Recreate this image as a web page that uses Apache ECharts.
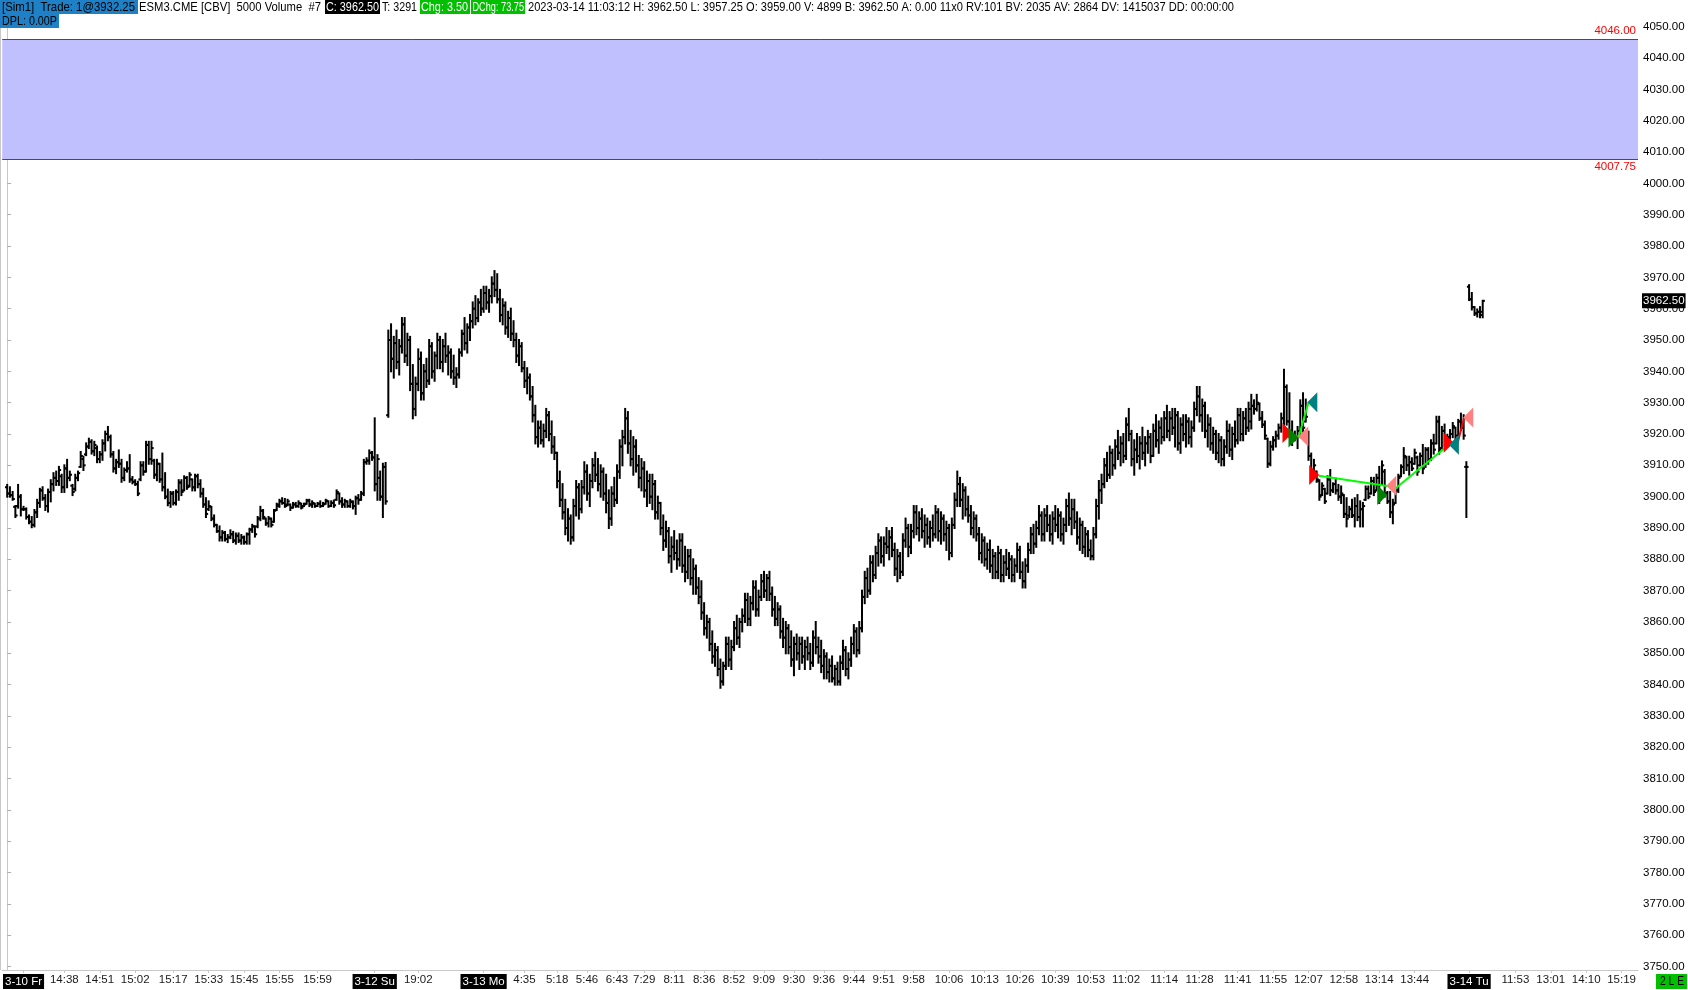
<!DOCTYPE html>
<html><head><meta charset="utf-8">
<script src="https://cdn.jsdelivr.net/npm/echarts@6/dist/echarts.min.js"></script>
<style>html,body{margin:0;padding:0;background:#fff;overflow:hidden}#c{width:1688px;height:990px}</style>
</head><body><div id="c"></div>
<script>
// ---- DATA: OHLC bars [open, high, low, close] by session ----
const friBars = [
[3903,3903.75,3900,3901],[3901,3903,3900,3900.5],[3900.5,3901.5,3899,3899.25],[3896.75,3897,3893.5,3894],[3897,3903.75,3896.5,3900],
[3900,3900.5,3894,3896],[3896,3896.75,3895.75,3896],[3896,3896.25,3893,3893.5],[3893.5,3894,3891.5,3892],[3892,3893.5,3890.25,3891],
[3891,3895.75,3890.5,3895],[3895,3899,3893.5,3898],[3898,3902.5,3896.75,3902],[3902,3903,3899,3899.5],[3899.5,3900.5,3895.75,3897],
[3897,3902.25,3895.25,3901.5],[3901.5,3905.25,3898.5,3904],[3904,3907.5,3902,3906],[3906,3908,3903.75,3905],[3905,3909.5,3903.75,3908.5],
[3906.5,3907,3901.5,3903],[3903,3910,3901.5,3909],[3909,3911.75,3903,3906],[3906,3908,3905.25,3907],[3903.5,3903.75,3900.5,3901.5],
[3902.5,3907,3902,3906],[3906,3908,3905.25,3907.5],[3909.5,3914.25,3909.5,3913],[3912,3912.75,3908.5,3910],[3913.5,3917,3913.25,3916],
[3916,3918.5,3915.5,3917.5],[3917.5,3918,3913.75,3914.5],[3914.5,3917.5,3913.25,3916.5],[3915.5,3916,3911,3912],[3912,3914.25,3911,3913.5],
[3913.5,3918,3911.75,3917],[3917,3920.75,3914.75,3920],[3920,3922.25,3918,3919],[3919,3919.5,3912.75,3913.5],[3913.5,3914.25,3908,3909],
[3909,3911.75,3907.5,3911],[3911,3914.75,3909.5,3910.5],[3910.5,3911.75,3904.75,3906],[3906,3909,3905.25,3908.5],[3908.5,3911,3908,3909],
[3909,3913.25,3904.75,3905.5],[3905.5,3906.25,3904.25,3904.75],[3904.75,3905.25,3903.75,3904],[3904,3904.75,3900.5,3901],[3905.5,3911,3905.25,3910],
[3910,3911,3907,3908],[3908,3917.5,3908,3916.5],[3916.5,3917.5,3910.5,3912],[3912,3917.5,3910.5,3915.5],[3911.5,3911.75,3906,3907],
[3907,3911.75,3905.25,3910.5],[3910.5,3910.5,3904.75,3905.5],[3905.5,3913.75,3902,3903],[3903,3907.5,3899.5,3900],[3900,3902.25,3897.25,3898],
[3898,3901.5,3896.75,3901],[3901,3901.5,3897.5,3898],[3898,3902,3897.5,3901.5],[3901.5,3905.25,3899,3904.5],[3904.5,3905.25,3900.5,3901.5],
[3902,3906.5,3902,3906],[3906,3906.25,3902.5,3903],[3903.5,3907.5,3903.25,3907],[3905.5,3905.5,3902,3903],[3903,3907,3902,3906.5],
[3906.5,3907,3903,3904],[3904,3905.25,3900,3901],[3901,3902.5,3896.75,3897.5],[3897.5,3899.5,3893.5,3894.5],[3896,3898.5,3895.75,3897],
[3896.75,3896.75,3892.5,3893],[3893,3894,3890.5,3891],[3891,3891,3888.75,3889],[3889,3890.5,3886,3887],[3887,3889,3886,3888.5],
[3888.5,3888.75,3886,3886.5],[3886.5,3887.75,3885.5,3887],[3887,3889.25,3886.75,3888],[3888,3888.75,3885.5,3886],[3886,3888.25,3885,3887.5],
[3887.5,3888.25,3885.5,3886],[3886,3887.75,3885,3887],[3887,3887.25,3885,3885.5],[3885.5,3888.25,3885,3888],[3888,3889.75,3885,3889.5],
[3889.5,3891,3888.75,3890.5],[3890.5,3890.5,3887.25,3888],[3890.5,3893.5,3890.25,3893],[3893,3896.75,3892.5,3895.5],[3895.5,3895.75,3893,3893.5],
[3893,3893,3891,3891.5],[3891.5,3893.5,3890.5,3893],[3893,3893,3890.5,3891],[3892,3895.75,3892,3895.5],[3895.75,3897.75,3895.75,3897.5],
[3897,3899,3896.75,3898.5],[3898.5,3899.5,3897.75,3898],[3898,3899.25,3896.75,3897],[3897.5,3899,3897.25,3898.5],[3897.5,3897.5,3895.75,3896.5],
[3896.5,3898,3896.5,3897.5],[3897.5,3898,3896.75,3897],[3897,3898.5,3896.75,3898],[3897.75,3897.75,3896.25,3896.5],[3897,3897.75,3897,3897.5],
[3897.75,3899,3897.75,3898.75],[3898.75,3899,3897,3897.5],[3897.5,3898.5,3896.75,3898],[3897.75,3897.75,3896.75,3897],[3897,3898,3897,3897.75],
[3897.75,3898.5,3896.75,3897],[3897,3898,3897,3897.5],[3897.75,3899,3897.75,3898.75],[3898.5,3898.5,3896.75,3897],[3897,3898.5,3897,3898],
[3898,3898.75,3896.75,3897.25],[3899,3902,3899,3901.5],[3901,3901,3897.75,3898.5],[3898.5,3899.5,3896.75,3897.5],[3897.5,3899,3896.75,3898.5],
[3898.5,3898.5,3896.75,3897],[3897,3899,3896.75,3898.5]
];
const sunBars = [
[3898.25,3898.5,3896.25,3897],[3897,3900,3894.5,3899.5],[3899.5,3900.5,3897.75,3899],[3899,3901.5,3899,3901],[3901,3911.75,3900.5,3911],
[3911,3912.25,3910.5,3911.5],[3911.5,3914.75,3910.5,3914],[3914,3914.25,3911.75,3912.5],[3912.5,3925,3902,3904],[3904,3913.25,3899,3912],
[3906,3908,3899,3900],[3900,3910.5,3893.5,3909.5],[3909.5,3910.75,3897.75,3898.5],[3926,3953,3925.5,3950],
[3950,3955,3940,3944],[3944,3951,3938,3949],[3949,3953,3941,3943],[3943,3950,3939,3948],[3948,3957,3946,3955],
[3955,3957,3943,3945],[3945,3952,3942,3950],[3950,3951,3934,3936],[3936,3942,3925,3928],[3928,3938,3926,3936],
[3936,3947,3934,3944],[3944,3946,3931,3933],[3933,3942,3931,3940],[3940,3944,3935,3937],[3937,3950,3936,3948],
[3948,3949,3938,3940],[3940,3946,3937,3945],[3945,3952,3941,3950],[3950,3951,3941,3943],[3943,3950,3940,3948],
[3948,3952,3943,3945],[3945,3948,3939,3946],[3946,3947,3938,3940],[3940,3945,3936,3938],[3938,3941,3935,3939],
[3939,3947,3938,3946],[3946,3953,3945,3952],[3952,3957,3947,3949],[3949,3955,3946,3954],[3954,3958,3950,3956],
[3956,3962,3954,3960],[3960,3964,3955,3957],[3957,3963,3956,3962],[3962,3966,3958,3960]
];
const monBars = [
[3960,3967,3959,3965],[3965,3967,3960,3962],[3962,3966,3959,3964],[3964,3970,3962,3968],[3968,3972,3964,3966],
[3966,3971,3962,3963],[3963,3966,3956,3958],[3958,3963,3955,3961],[3961,3962,3952,3954],[3954,3959,3951,3957],
[3957,3960,3950,3952],[3952,3956,3948,3950],[3950,3952,3943,3945],[3945,3950,3942,3948],[3948,3949,3940,3941],
[3941,3943,3935,3937],[3937,3941,3933,3938],[3938,3939,3931,3932],[3932,3935,3924,3926],[3926,3929,3917,3919],
[3919,3924,3916,3922],[3922,3924,3917,3918],[3918,3923,3916,3921],[3921,3928,3919,3926],[3926,3927,3918,3920],
[3920,3924,3914,3916],[3916,3919,3912,3914],[3914,3914,3903,3905],[3905,3908,3897,3899],[3899,3904,3893,3895],
[3895,3899,3888,3890],[3890,3896,3886,3893],[3893,3894,3885,3887],[3887,3899,3886,3897],[3897,3905,3894,3903],
[3903,3904,3893,3896],[3896,3905,3895,3903],[3903,3911,3901,3908],[3908,3910,3899,3901],[3901,3907,3897,3905],
[3905,3912,3903,3910],[3910,3914,3905,3907],[3907,3912,3902,3904],[3904,3910,3900,3908],[3908,3909,3899,3901],
[3901,3907,3895,3898],[3898,3902,3890,3893],[3893,3903,3891,3901],[3901,3906,3897,3899],[3899,3910,3898,3908],
[3908,3918,3906,3916],[3916,3921,3910,3919],[3919,3928,3917,3925],[3925,3927,3914,3917],[3917,3921,3910,3912],
[3912,3919,3907,3916],[3916,3918,3908,3910],[3910,3913,3903,3906],[3906,3912,3902,3909],[3909,3911,3900,3902],
[3902,3908,3897,3905],[3905,3907,3898,3900],[3900,3907,3896,3904],[3904,3905,3893,3895],[3895,3900,3893,3898],
[3898,3898,3888,3890],[3890,3894,3883,3886],[3886,3892,3884,3889],[3889,3890,3879,3881],[3881,3887,3876,3884],
[3884,3889,3880,3882],[3882,3886,3877,3880],[3880,3888,3878,3886],[3886,3888,3876,3878],[3878,3884,3873,3876],
[3876,3883,3874,3881],[3881,3883,3872,3874],[3874,3880,3869,3877],[3877,3878,3869,3871],[3871,3874,3866,3868],
[3868,3873,3861,3863],[3863,3866,3856,3858],[3858,3862,3855,3860],[3860,3861,3851,3853],[3853,3857,3847,3849],
[3849,3853,3846,3851],[3851,3852,3843,3845],[3845,3848,3839,3841],[3841,3847,3840,3846],[3846,3855,3845,3853],
[3853,3855,3846,3848],[3848,3854,3845,3852],[3852,3860,3851,3858],[3858,3862,3853,3855],[3855,3861,3852,3860],
[3860,3864,3857,3862],[3862,3869,3860,3867],[3867,3869,3859,3861],[3861,3868,3859,3866],[3866,3873,3864,3871],
[3871,3873,3862,3864],[3864,3870,3862,3868],[3868,3875,3867,3873],[3873,3876,3868,3870],[3870,3875,3867,3874],
[3874,3876,3867,3869],[3869,3871,3862,3864],[3864,3868,3859,3861],[3861,3866,3859,3864],[3864,3865,3855,3857],
[3857,3861,3852,3855],[3855,3860,3850,3858],[3858,3859,3850,3852],[3852,3857,3846,3848],[3848,3855,3843,3853],
[3853,3856,3848,3850],[3850,3855,3845,3853],[3853,3855,3847,3849],[3849,3854,3845,3852],[3852,3855,3848,3850],
[3850,3853,3845,3847],[3847,3857,3846,3855],[3855,3860,3850,3852],[3852,3855,3847,3849],[3849,3854,3844,3846],
[3846,3851,3842,3849],[3849,3850,3842,3844],[3844,3848,3841,3846],[3846,3849,3841,3842],[3842,3846,3840,3845],
[3845,3847,3840,3841],[3841,3849,3840,3847],[3847,3854,3845,3851],[3851,3852,3843,3845],[3845,3850,3842,3848],
[3848,3855,3846,3853],[3853,3859,3850,3857],[3857,3858,3849,3851],[3851,3860,3850,3858],[3858,3870,3857,3868],
[3868,3876,3866,3874],[3874,3877,3868,3870],[3870,3881,3869,3879],[3879,3881,3873,3875],[3875,3884,3874,3882],
[3882,3888,3878,3886],[3886,3887,3879,3881],[3881,3887,3878,3885],[3885,3890,3882,3884],[3884,3889,3880,3887],
[3887,3890,3881,3883],[3883,3885,3875,3877],[3877,3883,3873,3881],[3881,3882,3874,3876],[3876,3888,3875,3886],
[3886,3893,3884,3890],[3890,3891,3881,3884],[3884,3891,3882,3889],[3889,3897,3887,3895],[3895,3897,3888,3890],
[3890,3895,3886,3893],[3893,3896,3887,3889],[3889,3894,3884,3891],[3891,3893,3885,3887],[3887,3892,3884,3890],
[3890,3894,3886,3888],[3888,3897,3887,3895],[3895,3896,3886,3889],[3889,3895,3885,3893],[3893,3894,3886,3888],
[3888,3892,3883,3890],[3890,3891,3880,3882],[3882,3893,3881,3891],[3891,3901,3890,3899],[3899,3908,3897,3904],
[3904,3906,3897,3899],[3899,3904,3893,3902],[3902,3903,3894,3896],[3896,3900,3892,3894],[3894,3897,3888,3890],
[3890,3895,3887,3893],[3893,3894,3886,3888],[3888,3890,3880,3882],[3882,3888,3879,3886],[3886,3887,3878,3880],
[3880,3885,3877,3883],[3883,3886,3876,3878],[3878,3883,3874,3881],[3881,3882,3874,3876],[3876,3884,3874,3882],
[3882,3883,3873,3875],[3875,3881,3873,3879],[3879,3883,3875,3877],[3877,3882,3874,3880],[3880,3881,3873,3875],
[3875,3880,3873,3878],[3878,3885,3876,3883],[3883,3884,3874,3876],[3876,3879,3871,3873],[3873,3880,3871,3878],
[3878,3885,3876,3883],[3883,3890,3882,3888],[3888,3891,3882,3885],[3885,3892,3884,3890],[3890,3897,3888,3894],
[3894,3895,3886,3888],[3888,3896,3886,3894],[3894,3897,3889,3891],[3891,3894,3886,3888],[3888,3895,3885,3893],
[3893,3897,3889,3891],[3891,3896,3887,3894],[3894,3895,3886,3888],[3888,3893,3885,3891],[3891,3899,3889,3897],
[3897,3901,3891,3893],[3893,3899,3888,3896],[3896,3899,3890,3892],[3892,3895,3885,3887],[3887,3893,3883,3891],
[3891,3892,3882,3884],[3884,3890,3881,3888],[3888,3889,3881,3883],[3883,3886,3880,3881],[3881,3890,3880,3888],
[3888,3899,3887,3897],[3897,3905,3893,3902],[3902,3907,3898,3904],[3904,3912,3903,3910],[3910,3914,3905,3907],
[3907,3916,3906,3914],[3914,3915,3907,3910],[3910,3918,3909,3916],[3916,3921,3912,3914],[3914,3919,3910,3917],
[3917,3920,3911,3913],[3913,3925,3912,3923],[3923,3928,3918,3920],[3920,3921,3910,3912],[3912,3918,3907,3915],
[3915,3920,3911,3913],[3913,3919,3909,3917],[3917,3922,3912,3914],[3914,3919,3910,3917],[3917,3921,3914,3919],
[3919,3920,3911,3913],[3913,3923,3913,3921],[3921,3926,3916,3918],[3918,3924,3914,3922],[3922,3925,3917,3919],
[3919,3927,3918,3925],[3925,3929,3919,3921],[3921,3927,3918,3925],[3925,3928,3920,3922],[3922,3928,3916,3926],
[3926,3927,3915,3917],[3917,3925,3914,3923],[3923,3926,3918,3920],[3920,3926,3916,3924],[3924,3925,3917,3919],
[3919,3924,3916,3922],[3922,3930,3921,3928],[3928,3935,3926,3932],[3932,3935,3924,3926],[3926,3931,3921,3929],
[3929,3930,3919,3921],[3921,3926,3916,3923],[3923,3925,3915,3917],[3917,3922,3914,3920],[3920,3921,3912,3914],
[3914,3920,3911,3918],[3918,3919,3910,3912],[3912,3918,3910,3916],[3916,3924,3914,3921],[3921,3923,3913,3915],
[3915,3922,3912,3920],[3920,3924,3916,3918],[3918,3928,3917,3926],[3926,3928,3918,3920],[3920,3927,3918,3925],
[3925,3928,3920,3922],[3922,3930,3921,3928],
[3924,3932.5,3921.75,3929],[3929,3930.75,3926.5,3928],[3928,3932.5,3927.5,3930],[3929.5,3929.75,3924.5,3925],[3925,3927,3922.25,3923],
[3923,3924,3918.5,3919.5],[3918.5,3918.5,3909.5,3910.5],[3910.5,3917.5,3910,3916],[3916,3919,3915,3918],[3918,3920.75,3916,3919.5],
[3919.5,3923,3918.5,3922],[3922,3926.5,3920.75,3925],[3925,3940.5,3922.25,3935],[3935,3935.5,3923,3924],[3924,3933,3919,3921],
[3921,3924,3916.5,3918],[3918,3920.75,3918,3919],[3919,3922.25,3915.5,3921],[3921,3930.75,3919,3929],[3929,3933,3920.75,3922],
[3924,3931,3924,3925.5],[3920.5,3920.75,3911.75,3913],[3913,3913.75,3907,3908],[3908,3911.75,3907,3910],[3908,3908,3904.75,3905.5],
[3905,3905.25,3899,3900],[3900.5,3904.25,3900.5,3903.5],[3902.5,3902.5,3898,3898.5],[3901,3906.5,3901,3905.5],[3905.5,3908.5,3900.5,3902],
[3902,3904.25,3901.5,3904],[3904,3905.75,3901,3902],[3902,3903.75,3899,3900],[3900,3903.25,3898,3901],[3900.5,3900.5,3893.5,3894.5],
[3894.5,3899.5,3890.5,3893],[3894,3896.75,3893.5,3896],[3896,3899,3893.5,3894],[3894,3899.5,3890.5,3897],[3897,3900.5,3892.5,3893.5],
[3893.5,3898.5,3890.5,3896],[3896,3898,3890.5,3897],[3899,3903.25,3899,3902.5],[3902.5,3903.25,3899.5,3900],[3901,3906,3901,3905],
[3905,3906,3900.5,3901.5],[3902,3907,3902,3906],[3906,3909.5,3898,3899],[3903.75,3911.25,3903.75,3910],[3908,3908.5,3900,3901],
[3901,3901.5,3898,3898.5],[3898.5,3901.5,3893.5,3895],[3895,3899,3891.5,3897.5],[3898,3902.5,3898,3902],[3902,3907,3901.5,3906],
[3906.5,3910,3906.5,3909.5],[3909.5,3915.5,3907.5,3913],[3912.5,3912.75,3908.5,3910],[3910,3912.75,3907,3911],[3911,3912.25,3908.5,3909],
[3910.5,3915,3910.5,3914],[3912.5,3912.75,3907,3908],[3910,3913.75,3910,3913],[3913,3916.5,3907.5,3909],[3910,3915.5,3909.5,3915],
[3915,3915.5,3910.5,3912],[3912,3918,3911.75,3917],[3917,3919.75,3913.75,3915],[3917,3925.5,3917,3924],[3924,3925.5,3913.75,3915],
[3915.5,3922.25,3915.5,3921],[3921,3923,3916,3917],[3917,3919.75,3916.5,3919],[3919,3921.25,3918.5,3920],[3920,3923.5,3919,3922.5],
[3922,3922,3915.5,3917],[3919.5,3924.5,3919.5,3924],[3924,3926.5,3921.25,3922],[3922,3926,3918.5,3919.5],[3909.5,3911,3893.5,3909.5]
];
const tueBars = [
[3967,3967.5,3962.75,3963],[3963,3965,3959.75,3960.5],[3960.5,3960.5,3958,3958.5],[3958.5,3959.75,3957.5,3959],[3959,3960.5,3957.25,3958],[3959,3962.5,3957.25,3962.5]
];
// zone
const zoneLow = 4007.75, zoneHigh = 4046.00;
const lastPrice = 3962.50;
// trade markers [barIndex, price]
const entryRed = [[470.3,3920.3],[480.1,3906.9],[529.5,3917.2]];
const entryDkGreen = [[472.5,3918.9],[505.1,3900.5]];
const exitPink = [[476.1,3919.2],[508.4,3903.5],[536.7,3925.3]];
const exitTeal = [[479.4,3930.1],[531.4,3916.6]];
const tradeLine1 = [[472.0,3919.7],[474.4,3919.1],[478.1,3930.3]];
const tradeLine2 = [[481.8,3906.7],[506.9,3903.4]];
const tradeLine3 = [[509.9,3902.6],[529.5,3916.5]];
const tradeLine4 = [[532.6,3916.5],[535.2,3925.3]];
// x-axis labels (bar index, text)
const tickBars = [6,21,34,47,61,74,87,100,114,135,151,175,190,202,213,224,234,245,256,267,278,289,300,311,322,333,346,359,372,385,398,411,425,438,452,465,478,491,504,517,537,554,567,580,593];
const tickLabels = ['3-10 Fr','14:38','14:51','15:02','15:17','15:33','15:45','15:55','15:59','3-12 Su','19:02','3-13 Mo','4:35','5:18','5:46','6:43','7:29','8:11','8:36','8:52','9:09','9:30','9:36','9:44','9:51','9:58','10:06','10:13','10:26','10:39','10:53','11:02','11:14','11:28','11:41','11:55','12:07','12:58','13:14','13:44','3-14 Tu','11:53','13:01','14:10','15:19'];
// y-axis tick values
const yTicks = [3750,3760,3770,3780,3790,3800,3810,3820,3830,3840,3850,3860,3870,3880,3890,3900,3910,3920,3930,3940,3950,3960,3970,3980,3990,4000,4010,4020,4030,4040,4050];
// header texts
const hdrSim = '[Sim1]  Trade: 1@3932.25';
const hdrSym = 'ESM3.CME [CBV]  5000 Volume  #7';
const hdrClose = 'C: 3962.50';
const hdrTicks = 'T: 3291';
const hdrChg = 'Chg: 3.50';
const hdrDChg = 'DChg: 73.75';
const hdrRest = '2023-03-14 11:03:12 H: 3962.50 L: 3957.25 O: 3959.00 V: 4899 B: 3962.50 A: 0.00 11x0 RV:101 BV: 2035 AV: 2864 DV: 1415037 DD: 00:00:00';
const hdrDpl = 'DPL: 0.00P';
const posText = '2 L E';

// ---- CHART ----
const FONT = "'Liberation Sans',Arial,sans-serif";
const AX_FS = 11.5;
const bars = [].concat(friBars, sunBars, monBars, tueBars);
const ohlc = bars.map((b, i) => [i, b[0], b[1], b[2], b[3]]);
const S = 2.726, X0 = 5, PW = 1638;
const xMin = -X0 / S, xMax = xMin + PW / S;
const labelMap = {};
tickBars.forEach((b, i) => { labelMap[b] = tickLabels[i]; });

function renderBar(params, api) {
  const k = api.value(0);
  const pH = api.coord([k, api.value(2)]);
  const pL = api.coord([k, api.value(3)]);
  const yO = api.coord([k, api.value(1)])[1];
  const yC = api.coord([k, api.value(4)])[1];
  const x = pH[0];
  const st = { stroke: '#000', lineWidth: 2 };
  return { type: 'group', children: [
    { type: 'line', shape: { x1: x, y1: pH[1] - 1, x2: x, y2: pL[1] + 1 }, style: st },
    { type: 'line', shape: { x1: x - 2.2, y1: yO, x2: x, y2: yO }, style: st },
    { type: 'line', shape: { x1: x, y1: yC, x2: x + 2.2, y2: yC }, style: st }
  ]};
}

function tri(data, color, rot) {
  return { type: 'scatter', data: data, symbol: 'triangle', symbolSize: [20, 10], symbolRotate: rot,
    itemStyle: { color: color, opacity: 1 }, z: 5, silent: true, animation: false };
}
function tline(data, color) {
  return { type: 'line', data: data, showSymbol: false, symbol: 'none', z: 4, silent: true, animation: false,
    lineStyle: { color: color, width: 2 } };
}

// header text, horizontally scaled to the measured width of the reference
const HFONT = '13px ' + FONT;
const mctx = document.createElement('canvas').getContext('2d');
mctx.font = HFONT;
function htxt(x, y, t, fill, w) {
  const m = mctx.measureText(t).width || w;
  return { type: 'text', x: x, y: y, scaleX: w / m, scaleY: 1, silent: true, z: 100,
    style: { text: t, fill: fill, font: HFONT, textVerticalAlign: 'top', verticalAlign: 'top' } };
}
function hrect(x, y, w, h, fill) {
  return { type: 'rect', silent: true, z: 99, shape: { x: x, y: y, width: w, height: h }, style: { fill: fill } };
}
const BLUE = '#1e80c6', GREEN = '#00c000';
const graphic = [
  hrect(0, 0, 138, 14, BLUE), htxt(2, 1, hdrSim, '#000', 133),
  htxt(139, 1, hdrSym, '#000', 182),
  hrect(325, 0, 55, 14, '#000'), htxt(326, 1, hdrClose, '#fff', 53),
  htxt(382, 1, hdrTicks, '#000', 35),
  hrect(420, 0, 50, 14, GREEN), htxt(421, 1, hdrChg, '#fff', 47),
  hrect(471, 0, 54, 14, GREEN), htxt(472.5, 1, hdrDChg, '#fff', 51.5),
  htxt(528, 1, hdrRest, '#000', 706),
  hrect(0, 14, 59, 14, BLUE), htxt(2, 15, hdrDpl, '#000', 55),
  { type: 'line', silent: true, shape: { x1: 0.5, y1: 0, x2: 0.5, y2: 970 }, style: { stroke: '#c8c8c8', lineWidth: 1 } },
  hrect(1656, 974, 31, 15, GREEN),
  htxt(1660, 975, posText, '#000', 24)
];

const chart = echarts.init(document.getElementById('c'), null, { renderer: 'canvas' });
chart.setOption({
  animation: false,
  backgroundColor: '#fff',
  grid: { left: 0, right: 50, top: 0, bottom: 20, containLabel: false },
  xAxis: {
    type: 'value', min: xMin, max: xMax,
    splitLine: { show: false },
    axisLine: { show: true, lineStyle: { color: '#c8c8c8', width: 1 } },
    axisTick: { show: true, customValues: tickBars, length: 3, lineStyle: { color: '#c8c8c8' } },
    axisLabel: {
      show: true, customValues: tickBars, margin: 4,
      color: '#1a1a1a', fontSize: AX_FS, fontFamily: FONT,
      formatter: function (v) {
        const t = labelMap[Math.round(v)] || '';
        return t.indexOf('-') >= 0 ? '{d|' + t + '}' : t;
      },
      rich: { d: { backgroundColor: '#000', color: '#fff', fontSize: AX_FS, fontFamily: FONT, padding: [2, 2, 1, 2] } }
    }
  },
  yAxis: {
    type: 'value', position: 'right', min: 3748.92, max: 4058.52, scale: true,
    splitLine: { show: false },
    axisLine: { show: true, lineStyle: { color: '#c8c8c8', width: 1 } },
    axisTick: { show: true, customValues: yTicks, length: 4, lineStyle: { color: '#b0b0b0' } },
    axisLabel: { show: true, customValues: yTicks, margin: 5, color: '#000', fontSize: AX_FS, fontFamily: FONT,
      formatter: function (v) { return v.toFixed(2); } }
  },
  graphic: graphic,
  series: [
    {
      type: 'custom', renderItem: renderBar, data: ohlc, z: 3, silent: true, animation: false,
      encode: { x: 0, y: [2, 3] },
      markArea: { silent: true, itemStyle: { color: '#c0c0ff', opacity: 1 },
        data: [[{ yAxis: zoneLow }, { yAxis: zoneHigh }]] },
      markLine: {
        silent: true, symbol: ['none', 'none'], animation: false,
        data: [
          { yAxis: zoneHigh, lineStyle: { color: '#ff0000', width: 1, type: 'solid' },
            label: { show: true, position: 'insideEndTop', formatter: zoneHigh.toFixed(2), color: '#ff0000', fontSize: AX_FS, fontFamily: FONT, distance: 2 } },
          { yAxis: zoneLow, lineStyle: { color: '#ff0000', width: 1, type: 'solid' },
            label: { show: true, position: 'insideEndBottom', formatter: zoneLow.toFixed(2), color: '#ff0000', fontSize: AX_FS, fontFamily: FONT, distance: 2 } },
          { yAxis: lastPrice, lineStyle: { color: 'rgba(0,0,0,0)', width: 1, type: 'solid' },
            label: { show: true, position: 'end', formatter: lastPrice.toFixed(2), color: '#fff', backgroundColor: '#000', padding: [2, 1, 1, 1], fontSize: AX_FS, fontFamily: FONT, distance: 4 } }
        ]
      }
    },
    tline(tradeLine1, '#00ff00'), tline(tradeLine2, '#00ff00'), tline(tradeLine3, '#00ff00'), tline(tradeLine4, '#ff0000'),
    tri(entryRed, '#ff0000', -90), tri(entryDkGreen, '#008000', -90), tri(exitPink, '#ff8080', 90), tri(exitTeal, '#008080', 90)
  ]
});
</script>
</body></html>
